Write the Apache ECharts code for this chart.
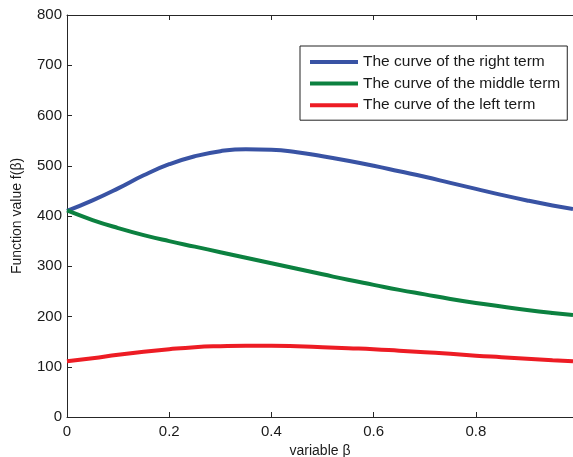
<!DOCTYPE html>
<html>
<head>
<meta charset="utf-8">
<script src="https://cdn.jsdelivr.net/npm/echarts@6/dist/echarts.min.js"></script>
<style>html,body{margin:0;padding:0;background:#fff}#c{width:573px;height:457px}</style>
</head>
<body>
<div id="c"></div>
<script>
var betaValues = [0, 0.05, 0.1, 0.15, 0.2, 0.25, 0.3, 0.35, 0.4, 0.45, 0.5, 0.55, 0.6, 0.65, 0.7, 0.75, 0.8, 0.85, 0.9, 0.95, 0.99];
var rightTerm = [410, 431, 455, 481, 503, 519, 529, 533, 532, 527, 519, 510, 500, 489, 478, 466, 454, 442, 431, 421, 414];
var middleTerm = [411, 392, 376, 362, 350, 339, 328, 317, 306, 295, 284, 273, 263, 253, 244, 235, 227, 220, 213, 207, 203];
var leftTerm = [111, 117, 124, 130, 135, 139, 141, 142, 142, 141, 139, 137, 135, 132, 129, 126, 122, 119, 116, 113, 111];
var seriesNames = ['The curve of the right term', 'The curve of the middle term', 'The curve of the left term'];
var xTickLabels = ['0', '0.2', '0.4', '0.6', '0.8'];

function pairs(ys) { return betaValues.map(function (x, i) { return [x, ys[i]]; }); }

var chart = echarts.init(document.getElementById('c'));
var font = 'Liberation Sans, Arial, Helvetica, sans-serif';
var axisCol = '#262626';
chart.setOption({
  animation: false,
  backgroundColor: '#fff',
  grid: { left: 67, top: 15, right: 0, bottom: 40, containLabel: false, outerBoundsMode: 'none' },
  legend: {
    orient: 'vertical', left: 300, top: 46,
    padding: [8, 7, 7, 10],
    itemGap: 5.6,
    itemWidth: 48, itemHeight: 4,
    icon: 'rect',
    borderColor: '#222', borderWidth: 1,
    backgroundColor: '#fff',
    textStyle: { fontFamily: font, fontSize: 15.5, color: '#1a1a1a', lineHeight: 15 },
    data: seriesNames
  },
  xAxis: [{
    type: 'value', min: 0, max: 0.99, interval: 0.2,
    name: 'variable β', nameLocation: 'middle', nameGap: 27,
    nameTextStyle: { fontFamily: font, fontSize: 14, color: '#1a1a1a' },
    axisLine: { show: true, lineStyle: { color: axisCol, width: 1 } },
    axisTick: { show: true, inside: true, length: 5, lineStyle: { color: axisCol } },
    axisLabel: { fontFamily: font, fontSize: 15, color: '#1a1a1a', margin: 7, showMaxLabel: false,
      formatter: function (v) { var s = (Math.round(v * 10) / 10).toString(); return xTickLabels.indexOf(s) >= 0 ? s : ''; } },
    splitLine: { show: false }
  }, {
    type: 'value', min: 0, max: 0.99, interval: 0.2, position: 'top',
    axisLine: { show: true, lineStyle: { color: axisCol, width: 1 } },
    axisTick: { show: true, inside: true, length: 5, lineStyle: { color: axisCol } },
    axisLabel: { show: false }, splitLine: { show: false }
  }],
  yAxis: {
    type: 'value', min: 0, max: 800, interval: 100,
    name: 'Function value f(β)', nameLocation: 'middle', nameGap: 43, nameRotate: 90,
    nameTextStyle: { fontFamily: font, fontSize: 14, color: '#1a1a1a' },
    axisLine: { show: true, lineStyle: { color: axisCol, width: 1 } },
    axisTick: { show: true, inside: true, length: 5, lineStyle: { color: axisCol } },
    axisLabel: { fontFamily: font, fontSize: 15, color: '#1a1a1a', margin: 5 },
    splitLine: { show: false }
  },
  series: [
    { name: seriesNames[0], type: 'line', data: pairs(rightTerm), smooth: 0.5, showSymbol: false,
      lineStyle: { color: '#3953a4', width: 4 }, itemStyle: { color: '#3953a4' } },
    { name: seriesNames[1], type: 'line', data: pairs(middleTerm), smooth: 0.5, showSymbol: false,
      lineStyle: { color: '#0c8140', width: 4 }, itemStyle: { color: '#0c8140' } },
    { name: seriesNames[2], type: 'line', data: pairs(leftTerm), smooth: 0.5, showSymbol: false,
      lineStyle: { color: '#ed1c24', width: 4 }, itemStyle: { color: '#ed1c24' } }
  ]
});
</script>
</body>
</html>
